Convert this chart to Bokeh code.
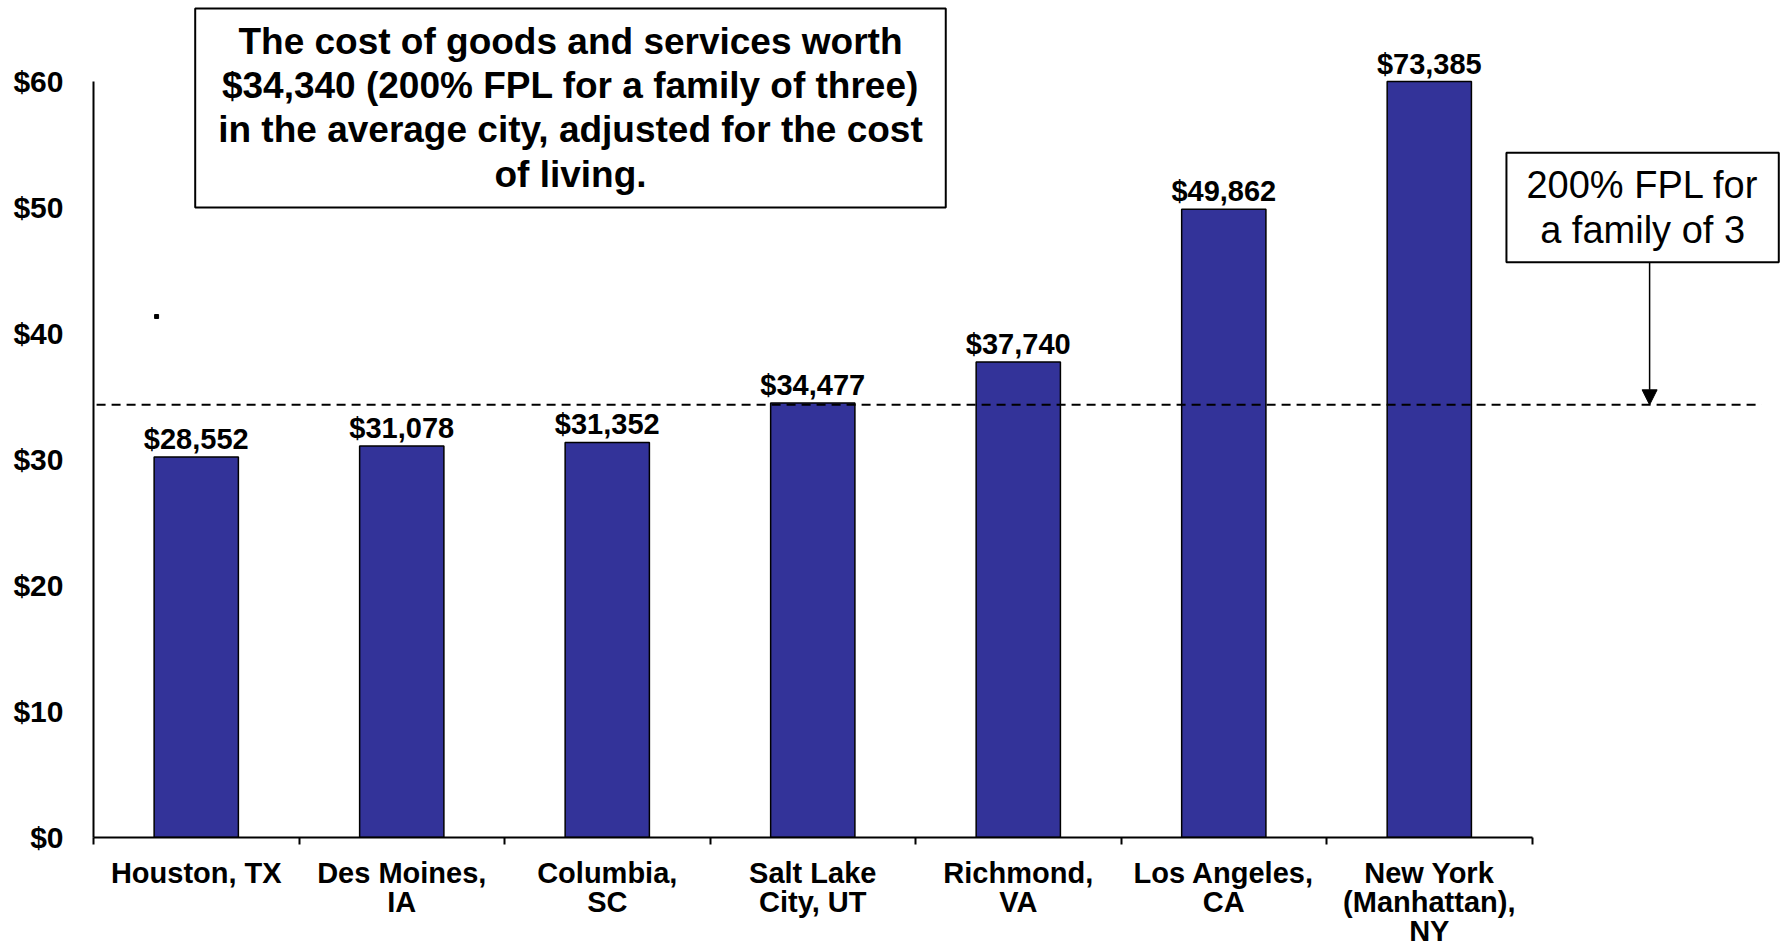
from bokeh.plotting import figure
from bokeh.models import (ColumnDataSource, LabelSet, Label, Arrow, NormalHead,
                          FixedTicker, Range1d)
from bokeh.embed import file_html
from bokeh.resources import INLINE
from bokeh.core.properties import value

# ---------------- data ----------------
cities = ["Houston, TX", "Des Moines,\nIA", "Columbia,\nSC", "Salt Lake\nCity, UT",
          "Richmond,\nVA", "Los Angeles,\nCA", "New York\n(Manhattan),\nNY"]
bar_heights = [30.2, 31.078, 31.352, 34.477, 37.740, 49.862, 60.0]   # as drawn (thousands $)
value_labels = ["$28,552", "$31,078", "$31,352", "$34,477", "$37,740", "$49,862", "$73,385"]
y_ticks = [0, 10, 20, 30, 40, 50, 60]
y_tick_labels = ["$0", "$10", "$20", "$30", "$40", "$50", "$60"]
fpl_value = 34.34
title_text = ("The cost of goods and services worth\n"
              "$34,340 (200% FPL for a family of three)\n"
              "in the average city, adjusted for the cost\n"
              "of living.")
fpl_note = "200% FPL for\na family of 3"
stray_dot_x = [0.307]
stray_dot_y = [41.35]

FONT = "Liberation Sans"
BAR = "#333399"

n = len(cities)
xc = [i + 0.5 for i in range(n)]
bounds_x = list(range(n + 1))

W, H = 1787, 951
p = figure(width=W, height=H, output_backend="svg", toolbar_location=None, title=None,
           x_range=Range1d(0, 8.243), y_range=Range1d(0, 66.43),
           min_border_left=93, min_border_right=0, min_border_top=0, min_border_bottom=114)
p.outline_line_color = None
p.xgrid.grid_line_color = None
p.ygrid.grid_line_color = None
p.background_fill_color = "white"
p.border_fill_color = "white"

# y axis
ya = p.yaxis[0]
ya.ticker = FixedTicker(ticks=y_ticks)
ya.major_label_overrides = {t: l for t, l in zip(y_ticks, y_tick_labels)}
ya.bounds = (0, 60)
ya.major_tick_in = 0
ya.major_tick_out = 0
ya.minor_tick_line_color = None
ya.axis_line_width = 2
ya.axis_line_color = "black"
ya.major_label_standoff = 30
ya.major_label_text_font = FONT
ya.major_label_text_font_style = "bold"
ya.major_label_text_font_size = "30px"
ya.major_label_text_color = "black"

# x axis: labels at category centres, tick marks at category boundaries
xa = p.xaxis[0]
xa.ticker = FixedTicker(ticks=xc, minor_ticks=bounds_x)
xa.major_label_overrides = {x: c for x, c in zip(xc, cities)}
xa.bounds = (0, n)
xa.major_tick_in = 0
xa.major_tick_out = 0
xa.major_tick_line_color = None
xa.minor_tick_in = 0
xa.minor_tick_out = 7
xa.minor_tick_line_width = 2
xa.minor_tick_line_color = "black"
xa.axis_line_width = 2
xa.axis_line_color = "black"
xa.major_label_standoff = 12
xa.major_label_text_font = FONT
xa.major_label_text_font_style = "bold"
xa.major_label_text_font_size = "29px"
xa.major_label_text_line_height = 0.92
xa.major_label_text_color = "black"

# bars
src = ColumnDataSource(dict(x=xc, top=bar_heights, label=value_labels))
p.vbar(x="x", top="top", bottom=0, width=0.41, source=src,
       fill_color=BAR, line_color="black", line_width=1.5)

# stray dot
p.scatter(stray_dot_x, stray_dot_y, marker="square", size=4, color="black")

# FPL dashed line
p.line(x=[0.015, 8.117], y=[fpl_value, fpl_value], line_dash="9 6",
       line_color="black", line_width=2)

# value labels
p.add_layout(LabelSet(x="x", y="top", text="label", source=src, text_align="center",
                      text_baseline="alphabetic", y_offset=8,
                      text_font=value(FONT), text_font_style="bold",
                      text_font_size="29px", text_color="black"))

# arrow from note box down to FPL line
p.add_layout(Arrow(end=NormalHead(size=15, fill_color="black", line_color="black"),
                   x_start=7.572, y_start=45.63, x_end=7.572, y_end=fpl_value,
                   line_color="black", line_width=1.5))

# title box
p.add_layout(Label(x=2.321, y=57.9, text=title_text, text_align="center",
                   text_baseline="middle", text_font=FONT, text_font_style="bold",
                   text_font_size="37px", text_line_height=1.074, text_color="black",
                   border_line_color="black", border_line_width=2,
                   background_fill_color="white", padding=dict(x=23, y=13)))

# note box
p.add_layout(Label(x=7.538, y=50.0, text=fpl_note, text_align="center",
                   text_baseline="middle", text_font=FONT, text_font_style="normal",
                   text_font_size="38px", text_line_height=1.08, text_color="black",
                   border_line_color="black", border_line_width=2,
                   background_fill_color="white", padding=dict(x=20, y=11)))

open("out.html", "w").write(file_html(p, INLINE))
